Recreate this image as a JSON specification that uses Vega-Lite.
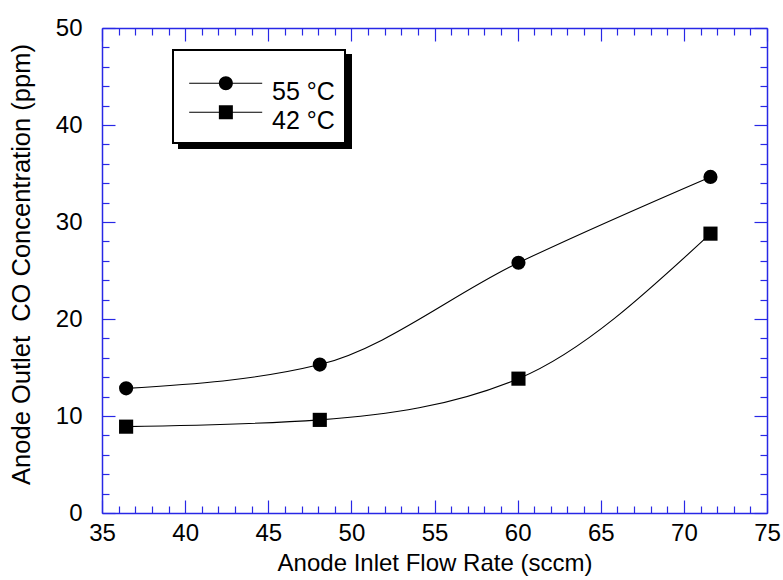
{
  "$schema": "https://vega.github.io/schema/vega-lite/v6.json",
  "width": 665,
  "height": 485,
  "autosize": {"type": "none"},
  "padding": {"left": 102, "top": 28, "right": 16, "bottom": 67},
  "background": "white",
  "config": {
    "view": {"stroke": null},
    "font": "Liberation Sans",
    "legend": {"strokeWidth": 2},
    "axis": {
      "domainColor": "#2828e6",
      "domainWidth": 1.5,
      "tickColor": "#2828e6",
      "tickWidth": 1.2,
      "labelFont": "Liberation Sans",
      "labelFontSize": 24,
      "labelColor": "black",
      "labelOverlap": false,
      "labelFlush": false,
      "titleFont": "Liberation Sans",
      "titleFontSize": 24,
      "titleFontWeight": "normal",
      "titleColor": "black",
      "grid": false
    }
  },
  "data": {
    "values": [
      {"series": "55 °C", "flow": 36.45, "co": 12.85},
      {"series": "55 °C", "flow": 48.1, "co": 15.3},
      {"series": "55 °C", "flow": 60.05, "co": 25.8},
      {"series": "55 °C", "flow": 71.6, "co": 34.65},
      {"series": "42 °C", "flow": 36.45, "co": 8.9},
      {"series": "42 °C", "flow": 48.1, "co": 9.6},
      {"series": "42 °C", "flow": 60.05, "co": 13.85},
      {"series": "42 °C", "flow": 71.6, "co": 28.8}
    ]
  },
  "resolve": {
    "scale": {"shape": "independent"},
    "legend": {"shape": "independent"},
    "axis": {"x": "independent", "y": "independent"}
  },
  "layer": [
    {
      "mark": {"type": "line", "color": "black", "strokeWidth": 1.1, "interpolate": "monotone"},
      "encoding": {
        "x": {
          "field": "flow", "type": "quantitative",
          "scale": {"domain": [35, 75], "nice": false, "zero": false},
          "axis": {
            "orient": "bottom",
            "title": "Anode Inlet Flow Rate (sccm)",
            "values": [35,36,37,38,39,40,41,42,43,44,45,46,47,48,49,50,51,52,53,54,55,56,57,58,59,60,61,62,63,64,65,66,67,68,69,70,71,72,73,74,75],
            "tickSize": {"condition": {"test": "datum.value % 5 === 0", "value": -13}, "value": -7},
            "labelExpr": "datum.value % 5 === 0 ? datum.label : ''",
            "labelPadding": 21,
            "titlePadding": 0
          }
        },
        "y": {
          "field": "co", "type": "quantitative",
          "scale": {"domain": [0, 50], "nice": false, "zero": false},
          "axis": {
            "orient": "left",
            "title": "Anode Outlet\u00a0 CO Concentration (ppm)",
            "titleFontSize": 25.5,
            "titleY": 236,
            "values": [0,2,4,6,8,10,12,14,16,18,20,22,24,26,28,30,32,34,36,38,40,42,44,46,48,50],
            "tickSize": {"condition": {"test": "datum.value % 10 === 0", "value": -13}, "value": -7},
            "labelExpr": "datum.value % 10 === 0 ? datum.label : ''",
            "labelPadding": 33,
            "titlePadding": 21
          }
        },
        "detail": {"field": "series"}
      }
    },
    {
      "mark": {"type": "point", "filled": true, "color": "black", "opacity": 1, "size": 200},
      "encoding": {
        "x": {
          "field": "flow", "type": "quantitative",
          "scale": {"domain": [35, 75], "nice": false, "zero": false},
          "axis": {
            "orient": "top",
            "title": null,
            "labels": false,
            "values": [35,36,37,38,39,40,41,42,43,44,45,46,47,48,49,50,51,52,53,54,55,56,57,58,59,60,61,62,63,64,65,66,67,68,69,70,71,72,73,74,75],
            "tickSize": {"condition": {"test": "datum.value % 5 === 0", "value": -13}, "value": -7}
          }
        },
        "y": {
          "field": "co", "type": "quantitative",
          "scale": {"domain": [0, 50], "nice": false, "zero": false},
          "axis": {
            "orient": "right",
            "title": null,
            "labels": false,
            "values": [0,2,4,6,8,10,12,14,16,18,20,22,24,26,28,30,32,34,36,38,40,42,44,46,48,50],
            "tickSize": {"condition": {"test": "datum.value % 10 === 0", "value": -13}, "value": -7}
          }
        },
        "shape": {
          "field": "series", "type": "nominal",
          "scale": {"domain": ["55 °C", "42 °C"], "range": ["circle", "square"]},
          "legend": null
        }
      }
    },
    {
      "mark": {"type": "point", "filled": true, "color": "black", "opacity": 0},
      "encoding": {
        "x": {"field": "flow", "type": "quantitative", "axis": null},
        "y": {"field": "co", "type": "quantitative", "axis": null},
        "shape": {
          "field": "series", "type": "nominal",
          "scale": {"domain": ["55 °C", "42 °C"], "range": ["M-0.83,-1.24H9.6V-1.1H-0.83Z M3.41,-1.17A1,1 0 1,1 5.41,-1.17A1,1 0 1,1 3.41,-1.17Z", "M-0.83,-1.24H9.6V-1.1H-0.83Z M3.41,-2.17H5.41V-0.17H3.41Z"]},
          "legend": {
            "title": "\u00a0",
            "titleFontSize": 8,
            "titlePadding": 11.5,
            "titleColor": "black",
            "orient": "none",
            "legendX": 77,
            "legendY": 27,
            "zindex": 0,
            "fillColor": "black",
            "strokeColor": "black",
            "padding": 9.5,
            "symbolSize": 196,
            "symbolOpacity": 1,
            "symbolFillColor": "black",
            "symbolStrokeWidth": 0,
            "labelFont": "Liberation Sans",
            "labelFontSize": 25,
            "labelColor": "black",
            "labelOffset": 64.5,
            "labelExpr": "datum.label + '\u2009\u2009'",
            "rowPadding": 0
          }
        }
      }
    },
    {
      "mark": {"type": "point", "filled": true, "color": "black", "opacity": 0},
      "encoding": {
        "x": {"field": "flow", "type": "quantitative", "axis": null},
        "y": {"field": "co", "type": "quantitative", "axis": null},
        "shape": {
          "field": "series", "type": "nominal",
          "scale": {"domain": ["55 °C", "42 °C"], "range": ["M-0.83,-1.24H9.6V-1.1H-0.83Z M3.41,-1.17A1,1 0 1,1 5.41,-1.17A1,1 0 1,1 3.41,-1.17Z", "M-0.83,-1.24H9.6V-1.1H-0.83Z M3.41,-2.17H5.41V-0.17H3.41Z"]},
          "legend": {
            "title": "\u00a0",
            "titleFontSize": 8,
            "titlePadding": 11.5,
            "titleColor": "white",
            "orient": "none",
            "legendX": 71,
            "legendY": 22,
            "zindex": 1,
            "fillColor": "white",
            "strokeColor": "black",
            "padding": 9.5,
            "symbolSize": 196,
            "symbolOpacity": 1,
            "symbolFillColor": "black",
            "symbolStrokeWidth": 0,
            "labelFont": "Liberation Sans",
            "labelFontSize": 25,
            "labelColor": "black",
            "labelOffset": 64.5,
            "labelExpr": "datum.label + '\u2009\u2009'",
            "rowPadding": 0
          }
        }
      }
    }
  ]
}
